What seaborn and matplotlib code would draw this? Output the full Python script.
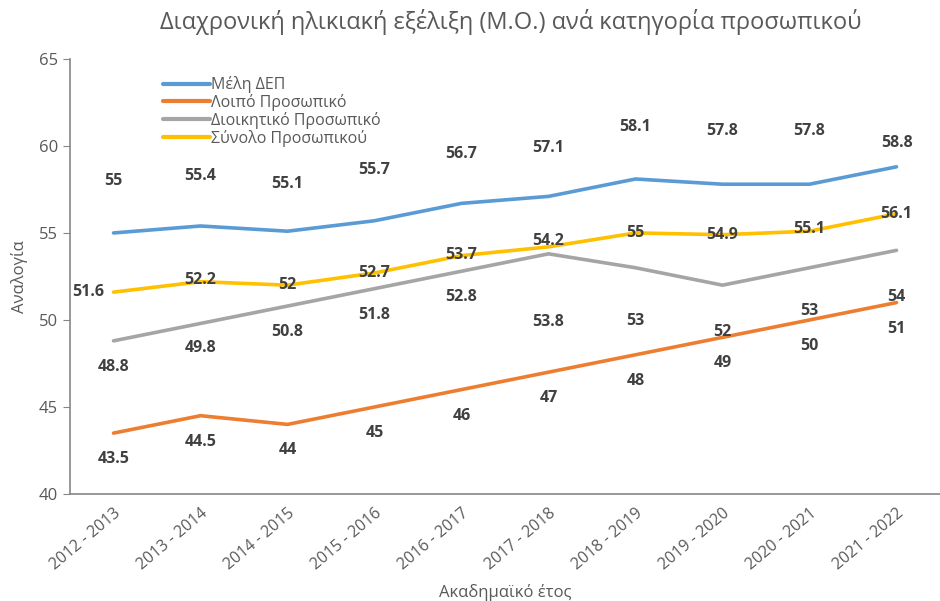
import pandas as pd
import matplotlib.pyplot as plt
import seaborn as sns

# Data
years = ["2012 - 2013", "2013 - 2014", "2014 - 2015", "2015 - 2016", "2016 - 2017",
         "2017 - 2018", "2018 - 2019", "2019 - 2020", "2020 - 2021", "2021 - 2022"]
dep = [55, 55.4, 55.1, 55.7, 56.7, 57.1, 58.1, 57.8, 57.8, 58.8]
other = [43.5, 44.5, 44, 45, 46, 47, 48, 49, 50, 51]
admin = [48.8, 49.8, 50.8, 51.8, 52.8, 53.8, 53, 52, 53, 54]
total = [51.6, 52.2, 52, 52.7, 53.7, 54.2, 55, 54.9, 55.1, 56.1]

names = ["Μέλη ΔΕΠ", "Λοιπό Προσωπικό", "Διοικητικό Προσωπικό", "Σύνολο Προσωπικού"]
colors = ["#5B9BD5", "#ED7D31", "#A5A5A5", "#FFC000"]

sns.set_style("white")
plt.rcParams['font.family'] = ['Open Sans', 'DejaVu Sans']

rows = []
for name, vals in zip(names, [dep, other, admin, total]):
    for i, v in enumerate(vals):
        rows.append({"pos": i, "value": v, "series": name})
df = pd.DataFrame(rows)

fig = plt.figure(figsize=(9.4, 6.01), dpi=100)
ax = fig.add_axes([0.0745, 0.178, 0.9255, 0.724])

sns.lineplot(data=df, x="pos", y="value", hue="series", hue_order=names,
             palette=colors, linewidth=2.6, ax=ax)

# label offsets in pixels (vertical), per series, roughly as placed in the original
offsets = {
    "Μέλη ΔΕΠ": [52, 50, 47, 51, 49, 48, 52, 53, 53, 24],
    "Λοιπό Προσωπικό": [-26] * 10,
    "Διοικητικό Προσωπικό": [-26, -25, -26, -26, -26, -68, -53, -47, -43, -47],
    "Σύνολο Προσωπικού": [0, 2, 0, 0, 1, 6, 0, 0, 2, 0],
}
for name, vals in zip(names, [dep, other, admin, total]):
    for i, v in enumerate(vals):
        dx = -25 if (name == "Σύνολο Προσωπικού" and i == 0) else 0
        ax.annotate(f"{v:g}", (i, v), xytext=(dx * 0.72, offsets[name][i] * 0.72),
                    textcoords="offset points", ha="center", va="center",
                    fontsize=11.5, fontweight="bold", color="#404040")

ax.set_xlim(-0.5, 9.41)
ax.set_ylim(40, 65)
ax.set_yticks(range(40, 66, 5))
ax.set_xticks(range(len(years)))
ax.set_xticklabels(years, rotation=40, ha="right", rotation_mode="anchor")
ax.set_xticks([i + 0.5 for i in range(-1, len(years))], minor=True)
ax.tick_params(axis="x", which="major", length=0, pad=8, labelsize=11.5, labelcolor="#595959")
ax.tick_params(axis="x", which="minor", length=5, color="#868686", direction="out")
ax.tick_params(axis="y", length=5, color="#868686", direction="out", labelsize=12,
               labelcolor="#595959", left=True)

for s in ["top", "right"]:
    ax.spines[s].set_visible(False)
for s in ["left", "bottom"]:
    ax.spines[s].set_color("#868686")
    ax.spines[s].set_linewidth(1.2)

ax.set_xlabel("Ακαδημαϊκό έτος", fontsize=12, color="#595959", labelpad=8)
ax.set_ylabel("Αναλογία", fontsize=12, color="#595959", labelpad=8)
fig.text(0.543, 0.963, "Διαχρονική ηλικιακή εξέλιξη (Μ.Ο.) ανά κατηγορία προσωπικού",
         ha="center", va="center", fontsize=17, color="#595959")

leg = ax.legend(loc="upper left", bbox_to_anchor=(0.1, 0.975), frameon=False,
                fontsize=11.5, handlelength=2.9, handletextpad=0.1,
                labelspacing=0.05, borderaxespad=0)
for t in leg.get_texts():
    t.set_color("#595959")
for h in leg.get_lines():
    h.set_linewidth(3)

fig.savefig("out.png", dpi=100)
